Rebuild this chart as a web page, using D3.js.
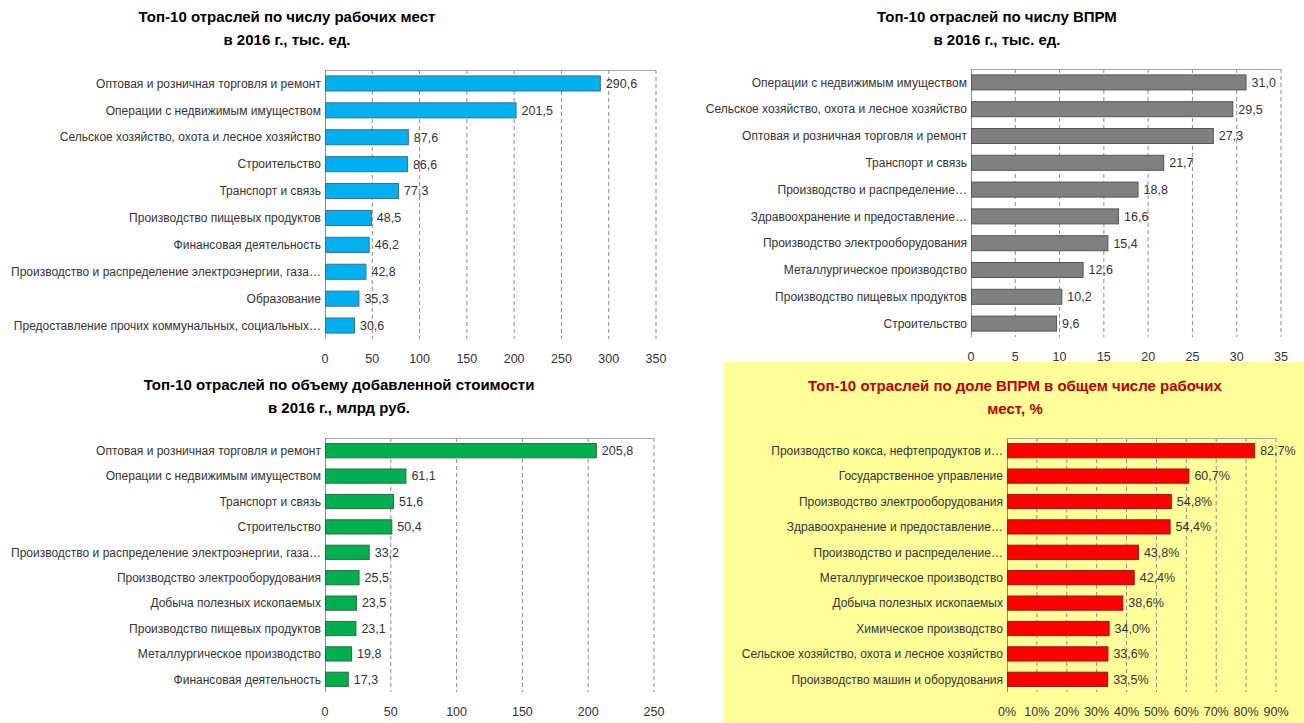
<!DOCTYPE html>
<html>
<head>
  <meta charset="utf-8">
  <title>Топ-10 отраслей</title>
  <script src="https://d3js.org/d3.v7.min.js"></script>
<style>
body {
  margin: 0;
  background: #fff;
}
svg text {
  font-family: "Liberation Sans", Arial, sans-serif;
}
.title {
  font-size: 15px;
  font-weight: bold;
  text-anchor: middle;
}
.cat {
  font-size: 12px;
  fill: #333;
  text-anchor: end;
}
.val, .tick-lbl {
  font-size: 12.5px;
  fill: #333;
}
.tick-lbl {
  text-anchor: middle;
}
</style>
</head>
<body>
<svg width="1304" height="723"></svg>
<script>

// --- data ---
var jobsCats = ["Оптовая и розничная торговля и ремонт", "Операции с недвижимым имуществом",
  "Сельское хозяйство, охота и лесное хозяйство", "Строительство", "Транспорт и связь",
  "Производство пищевых продуктов", "Финансовая деятельность",
  "Производство и распределение электроэнергии, газа…", "Образование",
  "Предоставление прочих коммунальных, социальных…"];
var jobsVals = [290.6, 201.5, 87.6, 86.6, 77.3, 48.5, 46.2, 42.8, 35.3, 30.6];
var jobsTicks = [0, 50, 100, 150, 200, 250, 300, 350];

var vprmCats = ["Операции с недвижимым имуществом", "Сельское хозяйство, охота и лесное хозяйство",
  "Оптовая и розничная торговля и ремонт", "Транспорт и связь", "Производство и распределение…",
  "Здравоохранение и предоставление…", "Производство электрооборудования",
  "Металлургическое производство", "Производство пищевых продуктов", "Строительство"];
var vprmVals = [31.0, 29.5, 27.3, 21.7, 18.8, 16.6, 15.4, 12.6, 10.2, 9.6];
var vprmTicks = [0, 5, 10, 15, 20, 25, 30, 35];

var gvaCats = ["Оптовая и розничная торговля и ремонт", "Операции с недвижимым имуществом",
  "Транспорт и связь", "Строительство", "Производство и распределение электроэнергии, газа…",
  "Производство электрооборудования", "Добыча полезных ископаемых",
  "Производство пищевых продуктов", "Металлургическое производство", "Финансовая деятельность"];
var gvaVals = [205.8, 61.1, 51.6, 50.4, 33.2, 25.5, 23.5, 23.1, 19.8, 17.3];
var gvaTicks = [0, 50, 100, 150, 200, 250];

var shareCats = ["Производство кокса, нефтепродуктов и…", "Государственное управление",
  "Производство электрооборудования", "Здравоохранение и предоставление…",
  "Производство и распределение…", "Металлургическое производство", "Добыча полезных ископаемых",
  "Химическое производство", "Сельское хозяйство, охота и лесное хозяйство",
  "Производство машин и оборудования"];
var shareVals = [82.7, 60.7, 54.8, 54.4, 43.8, 42.4, 38.6, 34.0, 33.6, 33.5];
var shareTicks = [0, 10, 20, 30, 40, 50, 60, 70, 80, 90];

var svg = d3.select("svg");

// yellow highlight behind the 4th chart
svg.append("rect")
  .attr("x", 724).attr("y", 362)
  .attr("width", 580).attr("height", 361)
  .attr("fill", "#ffff99");

var fmt = function(v) { return d3.format(".1f")(v).replace(".", ","); };

function barChart(o) {
  var g = svg.append("g");

  var x = d3.scaleLinear()
    .domain([0, o.ticks[o.ticks.length - 1]])
    .range([o.left, o.right]);

  var y = d3.scaleBand()
    .domain(o.cats)
    .range([o.top, o.bottom])
    .paddingInner(0.44)
    .paddingOuter(0.22);

  // title, two lines
  g.selectAll(".title")
    .data(o.title)
    .enter().append("text")
      .attr("class", "title")
      .attr("x", o.cx)
      .attr("y", function(d, i) { return o.ty + i * 23; })
      .attr("fill", o.titleColor)
      .text(function(d) { return d; });

  // dashed gridlines
  g.selectAll(".grid")
    .data(o.ticks.slice(1))
    .enter().append("line")
      .attr("x1", function(d) { return x(d); })
      .attr("x2", function(d) { return x(d); })
      .attr("y1", o.top)
      .attr("y2", o.bottom)
      .attr("stroke", "#8c8c8c")
      .attr("stroke-dasharray", "4,3");

  // top border + left axis
  g.append("line")
    .attr("x1", o.left).attr("x2", o.right)
    .attr("y1", o.top + 0.5).attr("y2", o.top + 0.5)
    .attr("stroke", "#a6a6a6");
  g.append("line")
    .attr("x1", o.left + 0.5).attr("x2", o.left + 0.5)
    .attr("y1", o.top).attr("y2", o.bottom)
    .attr("stroke", "#8c8c8c");

  g.selectAll(".bar")
    .data(o.vals)
    .enter().append("rect")
      .attr("x", x(0) + 0.5)
      .attr("y", function(d, i) { return y(o.cats[i]); })
      .attr("width", function(d) { return x(d) - x(0); })
      .attr("height", y.bandwidth())
      .attr("fill", o.color)
      .attr("stroke", o.stroke)
      .attr("stroke-width", 1);

  g.selectAll(".val")
    .data(o.vals)
    .enter().append("text")
      .attr("class", "val")
      .attr("x", function(d) { return x(d) + 6; })
      .attr("y", function(d, i) { return y(o.cats[i]) + y.bandwidth() / 2; })
      .attr("dy", "0.35em")
      .text(function(d) { return fmt(d) + o.suffix; });

  g.selectAll(".cat")
    .data(o.cats)
    .enter().append("text")
      .attr("class", "cat")
      .attr("x", o.left - 4)
      .attr("y", function(d) { return y(d) + y.bandwidth() / 2; })
      .attr("dy", "0.35em")
      .text(function(d) { return d; });

  g.selectAll(".tick-lbl")
    .data(o.ticks)
    .enter().append("text")
      .attr("class", "tick-lbl")
      .attr("x", function(d) { return x(d); })
      .attr("y", o.bottom + 20)
      .attr("dy", "0.35em")
      .text(function(d) { return d + o.tickSuffix; });
}

barChart({
  cats: jobsCats, vals: jobsVals, ticks: jobsTicks,
  title: ["Топ-10 отраслей по числу рабочих мест", "в 2016 г., тыс. ед."],
  titleColor: "#000", cx: 287, ty: 22,
  left: 325, right: 656, top: 70, bottom: 339,
  color: "#00b0f0", stroke: "#3a6f8a", suffix: "", tickSuffix: ""
});

barChart({
  cats: vprmCats, vals: vprmVals, ticks: vprmTicks,
  title: ["Топ-10 отраслей по числу ВПРМ", "в 2016 г., тыс. ед."],
  titleColor: "#000", cx: 997, ty: 22,
  left: 971, right: 1281, top: 69, bottom: 337,
  color: "#808080", stroke: "#555", suffix: "", tickSuffix: ""
});

barChart({
  cats: gvaCats, vals: gvaVals, ticks: gvaTicks,
  title: ["Топ-10 отраслей по объему добавленной стоимости", "в 2016 г., млрд руб."],
  titleColor: "#000", cx: 339, ty: 390,
  left: 325, right: 654, top: 438, bottom: 692,
  color: "#00b050", stroke: "#2f6b3f", suffix: "", tickSuffix: ""
});

barChart({
  cats: shareCats, vals: shareVals, ticks: shareTicks,
  title: ["Топ-10 отраслей по доле ВПРМ в общем числе рабочих", "мест, %"],
  titleColor: "#c00000", cx: 1015, ty: 391,
  left: 1007, right: 1276, top: 438, bottom: 692,
  color: "#ff0000", stroke: "#8b1a1a", suffix: "%", tickSuffix: "%"
});

</script>
</body>
</html>
